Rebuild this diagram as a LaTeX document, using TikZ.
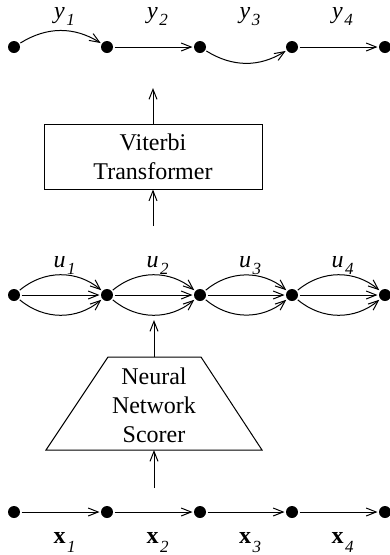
\documentclass[tikz,border=0pt]{standalone}
\usepackage{fontspec}
\setmainfont{Liberation Serif}
\usetikzlibrary{arrows.meta}
\newcommand{\lab}[3]{#1\kern1.5pt\raisebox{#3}{\fontsize{17}{17}\selectfont\textit{#2}}}
\begin{document}
\begin{tikzpicture}[x=1pt,y=-1pt,
  dot/.style={circle,fill=black,inner sep=0pt,minimum size=12pt,outer sep=1.5pt},
  link/.style={-{Straight Barb[length=10pt,width=8pt]},line width=1pt},
  shape line/.style={line width=1pt},
  lbl/.style={anchor=base,font=\fontsize{24}{29}\selectfont,inner sep=0pt},
  txt/.style={font=\fontsize{24}{29}\selectfont,align=center}]
\useasboundingbox (0,0) rectangle (389,555);
\foreach \i/\x in {1/14,2/107,3/200,4/292,5/385} {
  \node[dot] (y\i) at (\x,47) {};
  \node[dot] (u\i) at (\x,295) {};
  \node[dot] (x\i) at (\x,512) {};
}
% labels
\foreach \i/\x in {1/64.5,2/157.5,3/250,4/342.5} {
  \node[lbl] (ly\i) at (\x,18) {\lab{\textit{y}}{\i}{-7pt}};
  \node[lbl] (lu\i) at (\x,267) {\lab{\textit{u}}{\i}{-7pt}};
  \node[lbl] (lx\i) at (\x,543) {\lab{\textbf{x}}{\i}{-9pt}};
}
% y row
\draw[link] (y1) to[bend left=32] (y2);
\draw[link] (y2) -- (y3);
\draw[link] (y3) to[bend right=32] (y4);
\draw[link] (y4) -- (y5);
% u row
\foreach \a/\b in {1/2,2/3,3/4,4/5} {
  \draw[link] (u\a) to[bend left=40] (u\b);
  \draw[link] (u\a) -- (u\b);
  \draw[link] (u\a) to[bend right=40] (u\b);
}
% x row
\foreach \a/\b in {1/2,2/3,3/4,4/5} {
  \draw[link] (x\a) -- (x\b);
}
% Viterbi box
\node[draw,shape line,minimum width=218pt,minimum height=65pt,txt] (V) at (153,156.5) {Viterbi\\Transformer};
\coordinate (vt) at (153,88);
\coordinate (vb) at (153,226);
\draw[link] (V.north) -- (vt);
\draw[link] (vb) -- (V.south);
% Neural network scorer
\draw[shape line] (108,357) -- (201,357) -- (262,450) -- (46,450) -- cycle;
\node[txt,inner sep=0pt] (N) at (154,405) {Neural\\Network\\Scorer};
\coordinate (nt) at (154,357);
\coordinate (nu) at (154,320);
\coordinate (nb) at (154,450);
\coordinate (nx) at (154,488);
\draw[link] (nt) -- (nu);
\draw[link] (nx) -- (nb);
\end{tikzpicture}
\end{document}
